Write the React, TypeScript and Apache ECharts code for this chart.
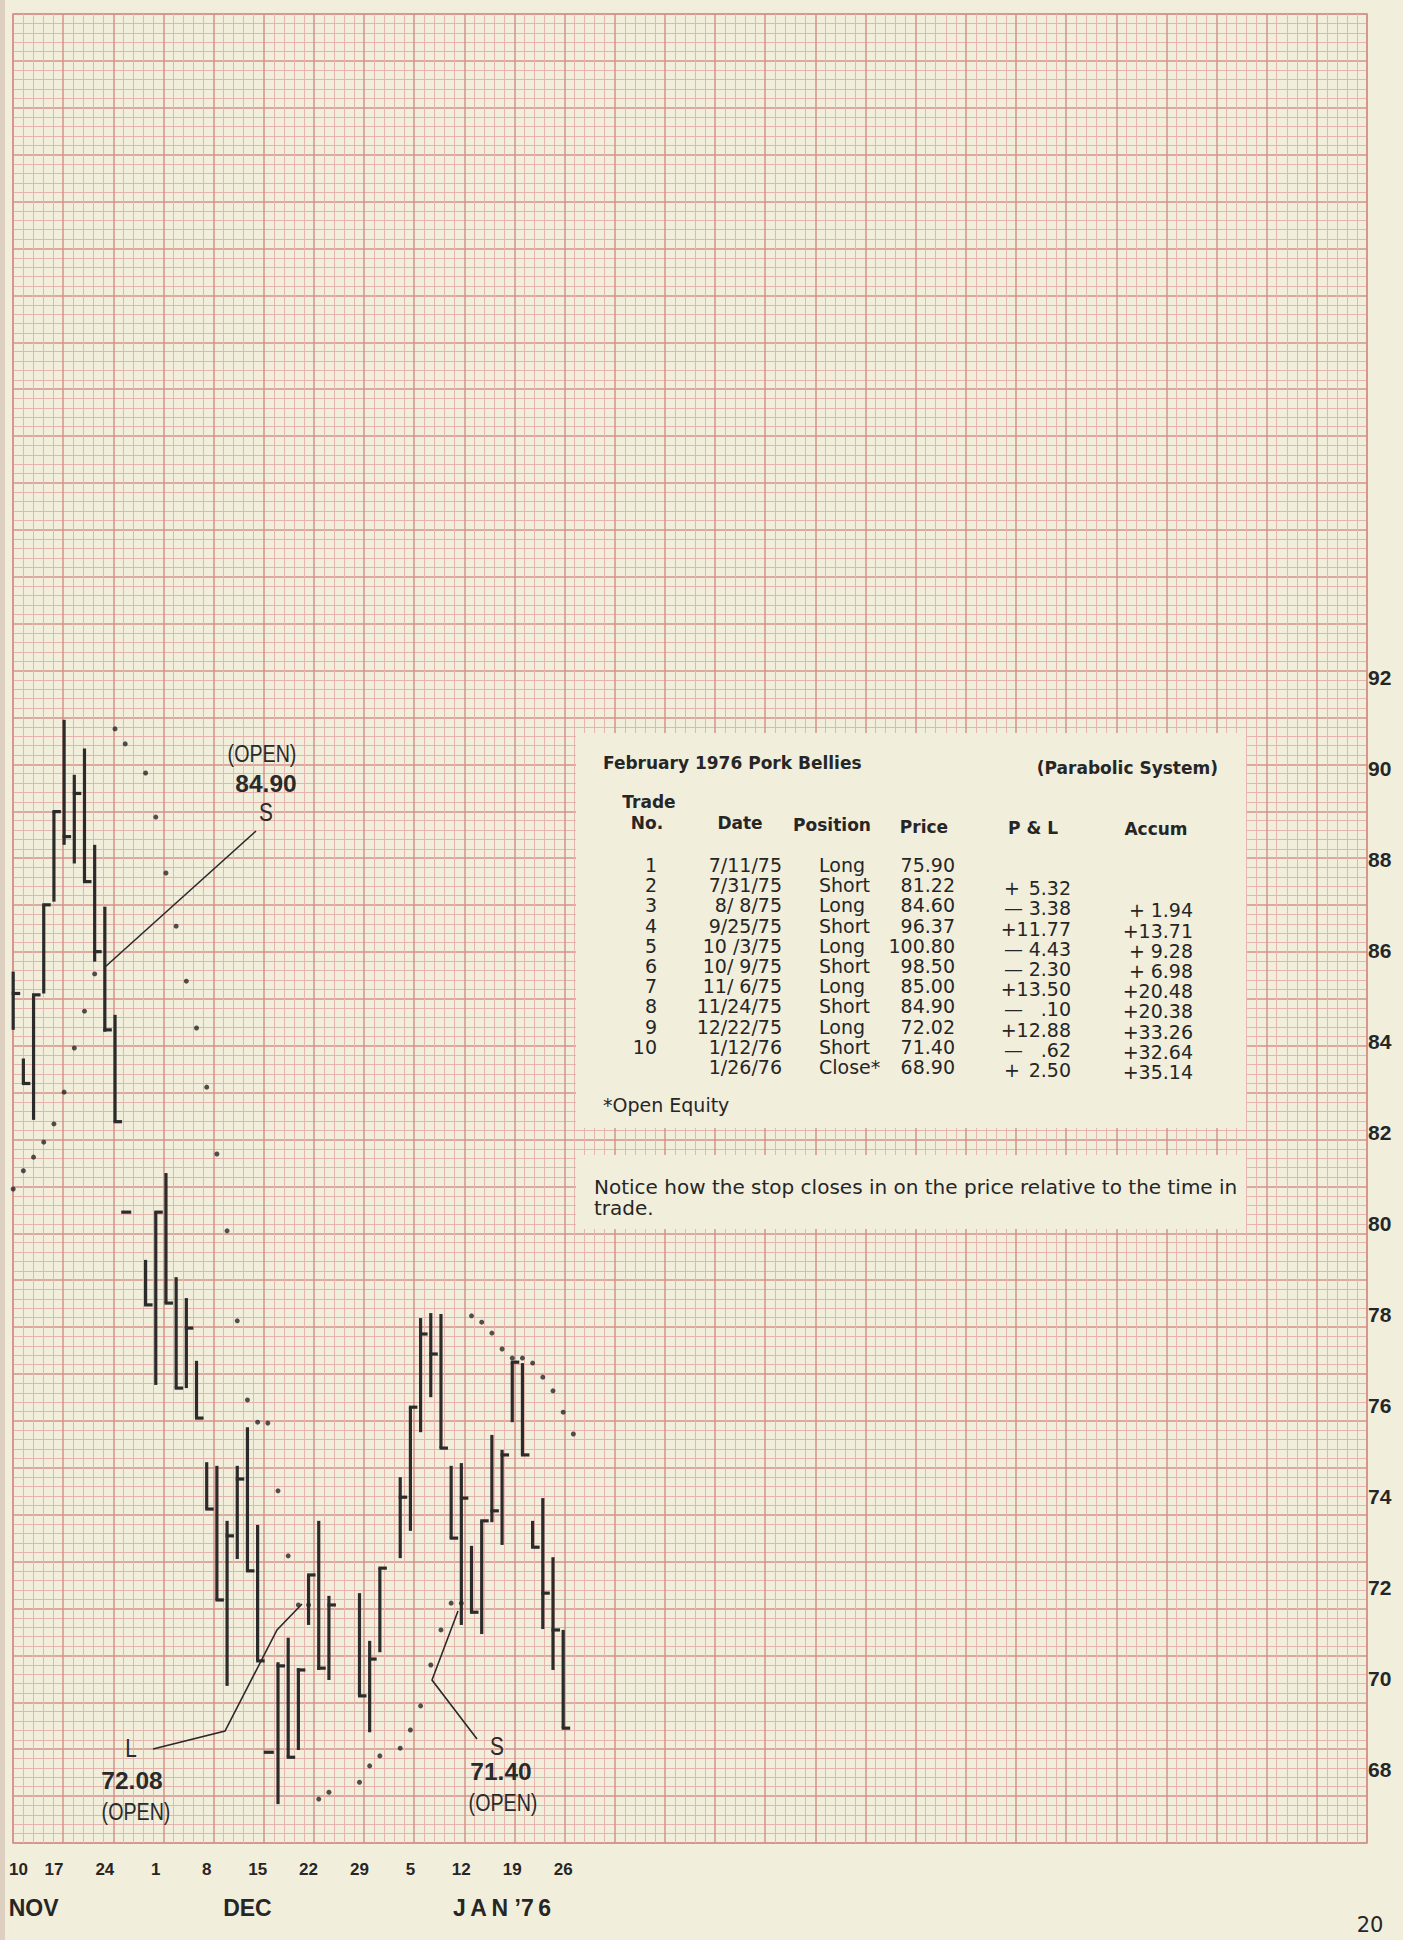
import React, { useEffect, useRef } from 'react';
import * as echarts from 'echarts';

// ---------- DATA ----------
// one slot per weekday (holidays keep their slot), Nov 10 1975 .. Jan 27 1976
const slotDates = [
  '11/10', '11/11', '11/12', '11/13', '11/14', '11/17', '11/18', '11/19', '11/20', '11/21',
  '11/24', '11/25', '11/26', '11/27', '11/28', '12/1', '12/2', '12/3', '12/4', '12/5',
  '12/8', '12/9', '12/10', '12/11', '12/12', '12/15', '12/16', '12/17', '12/18', '12/19',
  '12/22', '12/23', '12/24', '12/25', '12/26', '12/29', '12/30', '12/31', '1/1', '1/2',
  '1/5', '1/6', '1/7', '1/8', '1/9', '1/12', '1/13', '1/14', '1/15', '1/16',
  '1/19', '1/20', '1/21', '1/22', '1/23', '1/26', '1/27',
];

const barDates = [
  '11/11', '11/12', '11/13', '11/14', '11/17', '11/18', '11/19', '11/20', '11/21', '11/24',
  '11/25', '11/26', '11/28', '12/1', '12/2', '12/3', '12/4', '12/5', '12/8', '12/9',
  '12/10', '12/11', '12/12', '12/15', '12/16', '12/17', '12/18', '12/19', '12/22', '12/23',
  '12/24', '12/29', '12/30', '12/31', '1/2', '1/5', '1/6', '1/7', '1/8', '1/9',
  '1/12', '1/13', '1/14', '1/15', '1/16', '1/19', '1/20', '1/21', '1/22', '1/23', '1/26',
];
const barHigh = [
  85.54, 83.63, 85.03, 87.01, 89.06, 91.08, 89.87, 90.45, 88.33, 86.97,
  84.59, 80.25, 79.20, 80.25, 81.11, 78.82, 78.36, 76.98, 74.75, 74.67,
  73.46, 74.67, 75.52, 73.37, 68.37, 70.35, 70.89, 70.22, 72.27, 73.46,
  71.81, 71.87, 70.82, 72.42, 74.42, 75.96, 77.92, 78.03, 78.01, 74.67,
  74.73, 72.91, 73.46, 75.35, 75.02, 76.95, 76.93, 73.46, 73.96, 72.66, 71.06,
];
const barLow = [
  84.26, 83.08, 82.28, 85.06, 87.08, 88.33, 87.92, 87.52, 85.76, 84.22,
  82.24, 80.25, 78.21, 76.45, 78.25, 76.38, 76.38, 75.72, 73.72, 71.72,
  69.83, 72.62, 72.36, 70.38, 68.37, 67.23, 68.26, 68.42, 71.17, 70.18,
  69.96, 69.61, 68.81, 70.57, 72.64, 73.24, 75.41, 76.18, 75.06, 73.08,
  71.17, 71.43, 70.97, 73.43, 72.93, 75.63, 74.91, 72.88, 71.08, 70.18, 68.90,
];
const barClose = [
  85.06, 83.08, 85.03, 87.01, 89.06, 88.51, 89.46, 87.52, 85.98, 84.26,
  82.24, 80.25, 78.21, 80.25, 78.25, 76.38, 77.70, 75.72, 73.72, 71.72,
  73.13, 74.38, 72.36, 70.38, 68.37, 70.27, 68.26, 70.18, 72.27, 70.22,
  71.61, 69.61, 70.42, 72.42, 73.98, 75.96, 77.57, 77.13, 75.06, 73.08,
  73.96, 71.45, 73.46, 73.68, 74.91, 76.95, 74.91, 72.88, 71.87, 71.06, 68.90,
];

// parabolic stop (SAR) dots
const sarDates = [
  '11/11', '11/12', '11/13', '11/14', '11/17', '11/18', '11/19', '11/20', '11/21',
  '11/25', '11/26', '11/28', '12/1', '12/2', '12/3', '12/4', '12/5', '12/8', '12/9',
  '12/10', '12/11', '12/12', '12/15', '12/16', '12/17', '12/18', '12/19', '12/22',
  '12/23', '12/24', '12/29', '12/30', '12/31', '1/2', '1/5', '1/6', '1/7', '1/8', '1/9', '1/12',
  '1/13', '1/14', '1/15', '1/16', '1/19', '1/20', '1/21', '1/22', '1/23', '1/26', '1/27',
];
const sarValues = [
  80.76, 81.16, 81.46, 81.79, 82.19, 82.89, 83.86, 84.67, 85.49,
  90.88, 90.55, 89.91, 88.94, 87.71, 86.54, 85.33, 84.30, 83.00, 81.53,
  79.84, 77.86, 76.12, 75.63, 75.61, 74.12, 72.69, 71.61, 71.61,
  67.34, 67.49, 67.71, 68.07, 68.29, 68.46, 68.86, 69.39, 70.29, 71.06, 71.65, 71.65,
  77.97, 77.83, 77.59, 77.24, 77.04, 77.04, 76.93, 76.62, 76.32, 75.85, 75.37,
];

const monthLabels = [
  { date: '11/13', text: 'NOV' },
  { date: '12/12', text: 'DEC' },
  { date: '1/16', text: 'J\u2009A\u2009N \u20197\u20096' },
];

const priceTicks = [68, 70, 72, 74, 76, 78, 80, 82, 84, 86, 88, 90, 92];

// trade table
const tradeNo = ['1', '2', '3', '4', '5', '6', '7', '8', '9', '10', ''];
const tradeDate = ['7/11/75', '7/31/75', '8/\u00a08/75', '9/25/75', '10\u00a0/3/75', '10/\u00a09/75', '11/\u00a06/75', '11/24/75', '12/22/75', '1/12/76', '1/26/76'];
const tradePos = ['Long', 'Short', 'Long', 'Short', 'Long', 'Short', 'Long', 'Short', 'Long', 'Short', 'Close*'];
const tradePrice = ['75.90', '81.22', '84.60', '96.37', '100.80', '98.50', '85.00', '84.90', '72.02', '71.40', '68.90'];
const plSign = ['', '+', '\u2014', '+', '\u2014', '\u2014', '+', '\u2014', '+', '\u2014', '+'];
const plValue = ['', '5.32', '3.38', '11.77', '4.43', '2.30', '13.50', '.10', '12.88', '.62', '2.50'];
const accSign = ['', '', '+', '+', '+', '+', '+', '+', '+', '+', '+'];
const accValue = ['', '', '1.94', '13.71', '9.28', '6.98', '20.48', '20.38', '33.26', '32.64', '35.14'];

// ---------- STYLE ----------
const PAGE = '#f2eedc';
const MINOR = '#e6b5ad';
const MAJOR = '#d5928a';
const INK = '#262626';
const SANS = "'DejaVu Sans', 'Liberation Sans', sans-serif";
const ARIAL = "'Liberation Sans', Arial, sans-serif";

const X_MAX = 1366 / 10.2;

const slotOf = (d: string) => slotDates.indexOf(d);

function txt(x: number, y: number, text: string, o: any = {}) {
  return {
    type: 'text',
    x,
    y,
    z: 30,
    scaleX: o.scaleX || 1,
    silent: true,
    style: {
      text,
      fill: o.fill || INK,
      fontSize: o.size || 19,
      fontFamily: o.family || SANS,
      fontWeight: o.weight || 'normal',
      textAlign: o.align || 'left',
      align: o.align || 'left',
      textVerticalAlign: 'middle',
      verticalAlign: 'middle',
    },
  };
}

// sign + number: sign on its own column when the number is short, joined otherwise
function signed(g: any[], signX: number, rightX: number, y: number, sign: string, value: string) {
  if (!value) return;
  if (value.length <= 4) {
    if (sign) g.push(txt(signX, y, sign));
    g.push(txt(rightX, y, value, { align: 'right' }));
  } else {
    g.push(txt(rightX, y, sign + value, { align: 'right' }));
  }
}

function buildGraphic() {
  const g: any[] = [];
  // scanned left edge
  g.push({ type: 'rect', z: 6, silent: true, shape: { x: 0, y: 0, width: 5, height: 1940 }, style: { fill: '#ddd0c1' } });
  // table boxes
  g.push({ type: 'rect', z: 5, silent: true, shape: { x: 576, y: 733, width: 670, height: 395 }, style: { fill: PAGE } });
  g.push({ type: 'rect', z: 5, silent: true, shape: { x: 576, y: 1155, width: 670, height: 74 }, style: { fill: PAGE } });

  g.push(txt(603, 763, 'February 1976 Pork Bellies', { size: 17, weight: 'bold' }));
  g.push(txt(1218, 768, '(Parabolic System)', { size: 17, weight: 'bold', align: 'right' }));
  g.push(txt(649, 802, 'Trade', { size: 17, weight: 'bold', align: 'center' }));
  g.push(txt(647, 823, 'No.', { size: 17, weight: 'bold', align: 'center' }));
  g.push(txt(740, 823, 'Date', { size: 17, weight: 'bold', align: 'center' }));
  g.push(txt(832, 825, 'Position', { size: 17, weight: 'bold', align: 'center' }));
  g.push(txt(924, 827, 'Price', { size: 17, weight: 'bold', align: 'center' }));
  g.push(txt(1033, 828, 'P & L', { size: 17, weight: 'bold', align: 'center' }));
  g.push(txt(1156, 829, 'Accum', { size: 17, weight: 'bold', align: 'center' }));

  for (let i = 0; i < tradeNo.length; i++) {
    const y = 865 + i * 20.2;
    if (tradeNo[i]) g.push(txt(657, y, tradeNo[i], { align: 'right' }));
    g.push(txt(782, y, tradeDate[i], { align: 'right' }));
    g.push(txt(819, y, tradePos[i]));
    g.push(txt(955, y, tradePrice[i], { align: 'right' }));
    signed(g, 1004, 1071, y + 3, plSign[i], plValue[i]);
    signed(g, 1129, 1193, y + 5, accSign[i], accValue[i]);
  }
  g.push(txt(603, 1105, '*Open Equity'));
  g.push(txt(594, 1187, 'Notice how the stop closes in on the price relative to the time in', { size: 20 }));
  g.push(txt(594, 1208, 'trade.', { size: 20 }));

  // annotations (condensed lettering)
  const word = (x: number, y: number, t: string) =>
    txt(x, y, t, { family: ARIAL, size: 24, align: 'center', scaleX: 0.82, fill: '#2a2a2a' });
  const letter = (x: number, y: number, t: string) =>
    txt(x, y, t, { family: ARIAL, size: 26, align: 'center', scaleX: 0.8, fill: '#2a2a2a' });
  const num = (x: number, y: number, t: string) =>
    txt(x, y, t, { family: ARIAL, size: 24, weight: 'bold', align: 'center', scaleX: 1.02, fill: '#2a2a2a' });
  g.push(word(262, 754, '(OPEN)'));
  g.push(num(266, 784, '84.90'));
  g.push(letter(266, 812, 'S'));
  g.push(letter(131, 1748, 'L'));
  g.push(num(132, 1781, '72.08'));
  g.push(word(136, 1812, '(OPEN)'));
  g.push(letter(497, 1746, 'S'));
  g.push(num(501, 1772, '71.40'));
  g.push(word(503, 1803, '(OPEN)'));

  const lineStyle = { stroke: '#2a2a2a', lineWidth: 1.6, fill: null };
  g.push({ type: 'polyline', z: 25, silent: true, shape: { points: [[256, 831], [105, 967]] }, style: lineStyle });
  g.push({ type: 'polyline', z: 25, silent: true, shape: { points: [[153, 1749], [225, 1731], [277, 1630], [302, 1604]] }, style: lineStyle });
  g.push({ type: 'polyline', z: 25, silent: true, shape: { points: [[477, 1739], [432, 1680], [458, 1611]] }, style: lineStyle });

  // page number
  g.push(txt(1370, 1925, '20', { size: 21, align: 'center' }));
  return g;
}

function buildOption() {
  const barData = barDates.map((d, i) => [slotOf(d), barHigh[i], barLow[i], barClose[i]]);
  const sarData = sarDates.map((d, i) => [slotOf(d), sarValues[i]]);
  const monthBySlot: Record<number, string> = {};
  monthLabels.forEach((m) => { monthBySlot[slotOf(m.date)] = m.text; });

  const hidden = { show: false };
  const paperAxis = (max: number) => ({
    type: 'value',
    gridIndex: 0,
    min: 0,
    max,
    interval: 5,
    axisLine: hidden,
    axisTick: hidden,
    axisLabel: hidden,
    splitLine: { show: true, lineStyle: { color: MAJOR, width: 1.5 } },
    minorTick: { show: false, splitNumber: 5 },
    minorSplitLine: { show: true, lineStyle: { color: MINOR, width: 1 } },
  });

  return {
    animation: false,
    backgroundColor: PAGE,
    grid: [
      { left: 13, top: 14, width: 1354, height: 1829, show: true, borderColor: MAJOR, borderWidth: 1.6, backgroundColor: 'transparent' },
      { left: 1, top: 632.5, width: 1366, height: 1227.5 },
    ],
    xAxis: [
      paperAxis(135),
      {
        type: 'value',
        gridIndex: 1,
        min: 0,
        max: X_MAX,
        interval: 5,
        axisLine: hidden,
        axisTick: hidden,
        splitLine: hidden,
        axisLabel: {
          margin: 1,
          fontSize: 17,
          fontWeight: 'bold',
          fontFamily: ARIAL,
          color: INK,
          alignMinLabel: 'left',
          formatter: (v: number) => {
            const i = Math.round(v);
            if (i === 0) return '{first|' + slotDates[i].split('/')[1] + '}';
            return i % 5 === 0 && i <= 55 ? slotDates[i].split('/')[1] : '';
          },
          rich: {
            first: { fontSize: 17, fontWeight: 'bold', fontFamily: ARIAL, color: INK, padding: [0, 0, 0, 6] },
          },
        },
      },
      {
        type: 'value',
        gridIndex: 1,
        min: 0,
        max: X_MAX,
        interval: 1,
        position: 'bottom',
        axisLine: hidden,
        axisTick: hidden,
        splitLine: hidden,
        axisLabel: {
          margin: 36,
          fontSize: 23,
          fontWeight: 'bold',
          fontFamily: ARIAL,
          color: INK,
          formatter: (v: number) => monthBySlot[Math.round(v)] || '',
        },
      },
    ],
    yAxis: [
      paperAxis(195),
      {
        type: 'value',
        gridIndex: 1,
        min: 66,
        max: 93,
        interval: 2,
        position: 'right',
        axisLine: hidden,
        axisTick: hidden,
        splitLine: hidden,
        axisLabel: {
          margin: 1,
          fontSize: 21,
          fontWeight: 'bold',
          fontFamily: ARIAL,
          color: INK,
          formatter: (v: number) => (priceTicks.indexOf(v) >= 0 ? String(v) : ''),
        },
      },
    ],
    series: [
      {
        type: 'custom',
        name: 'Pork Bellies',
        xAxisIndex: 1,
        yAxisIndex: 1,
        z: 20,
        data: barData,
        encode: { x: 0, y: [1, 2, 3] },
        renderItem: (_params: any, api: any) => {
          const s = api.value(0);
          const hi = api.value(1);
          const lo = api.value(2);
          const cl = api.value(3);
          const pH = api.coord([s, hi]);
          const pL = api.coord([s, lo]);
          const pC = api.coord([s, cl]);
          const style = { stroke: '#2b2b2b', lineWidth: 3.2, lineCap: 'butt' };
          if (hi === lo) {
            return { type: 'line', shape: { x1: pH[0] - 4, y1: pH[1], x2: pH[0] + 6, y2: pH[1] }, style };
          }
          return {
            type: 'group',
            children: [
              { type: 'line', shape: { x1: pH[0], y1: pH[1], x2: pL[0], y2: pL[1] }, style },
              { type: 'line', shape: { x1: pC[0] - 1.5, y1: pC[1], x2: pC[0] + 7, y2: pC[1] }, style },
            ],
          };
        },
      },
      {
        type: 'scatter',
        name: 'Parabolic stop',
        xAxisIndex: 1,
        yAxisIndex: 1,
        z: 20,
        symbol: 'circle',
        symbolSize: 5,
        itemStyle: { color: '#262626' },
        data: sarData,
      },
    ],
    graphic: buildGraphic(),
  };
}

export default function App() {
  const ref = useRef<HTMLDivElement>(null);
  useEffect(() => {
    if (!ref.current) return;
    const chart = echarts.init(ref.current, null, { renderer: 'svg' });
    chart.setOption(buildOption() as any);
    return () => chart.dispose();
  }, []);
  return (
    <div
      ref={ref}
      style={{ position: 'absolute', left: 0, top: 0, width: 1403, height: 1940 }}
    />
  );
}
